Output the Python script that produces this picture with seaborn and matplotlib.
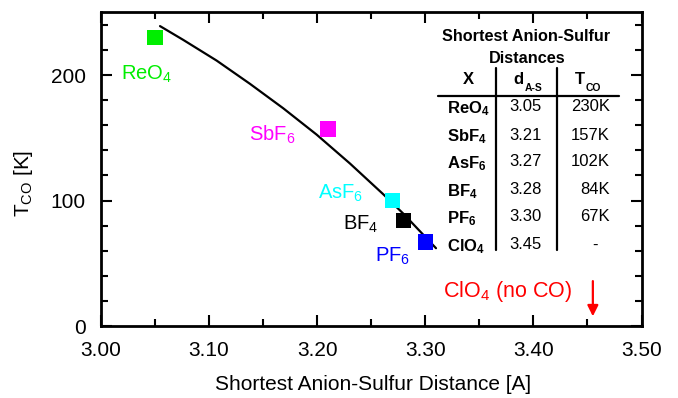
import numpy as np
import pandas as pd
import matplotlib
matplotlib.use("Agg")
import matplotlib.pyplot as plt
import seaborn as sns

# ---- data ----
anions = ["ReO4", "SbF6", "AsF6", "BF4", "PF6"]
anion_labels = ["ReO$_4$", "SbF$_6$", "AsF$_6$", "BF$_4$", "PF$_6$"]
distance = [3.05, 3.21, 3.27, 3.28, 3.30]
t_co = [230, 157, 100, 84, 67]
colors = ["#00ee00", "#ff00ff", "#00ffff", "#000000", "#0000ff"]

# guide curve
curve_d = [3.0546, 3.0761, 3.1070, 3.1378, 3.1686, 3.1995, 3.2303, 3.2611, 3.2797, 3.3099]
curve_t = [239.0, 228.0, 211.5, 193.0, 173.5, 152.5, 129.5, 105.0, 89.5, 62.0]

# table
table_x = [r"$\mathbf{ReO}_\mathbf{4}$", r"$\mathbf{SbF}_\mathbf{4}$", r"$\mathbf{AsF}_\mathbf{6}$",
           r"$\mathbf{BF}_\mathbf{4}$", r"$\mathbf{PF}_\mathbf{6}$", r"$\mathbf{ClO}_\mathbf{4}$"]
table_d = ["3.05", "3.21", "3.27", "3.28", "3.30", "3.45"]
table_t = ["230K", "157K", "102K", "84K", "67K", "-"]

clo4_d = 3.455

sns.set_style("ticks")
plt.rcParams["font.family"] = ["Liberation Sans", "DejaVu Sans"]
plt.rcParams["mathtext.fontset"] = "custom"
plt.rcParams["mathtext.rm"] = "Liberation Sans"
plt.rcParams["mathtext.it"] = "Liberation Sans:italic"
plt.rcParams["mathtext.bf"] = "Liberation Sans:bold"
plt.rcParams["text.color"] = "black"
plt.rcParams["axes.labelcolor"] = "black"

W, H = 678, 398
fig = plt.figure(figsize=(W / 100, H / 100), dpi=100)
L, R, B, T = 101, 641.5, 326, 12.3
ax = fig.add_axes([L / W, 1 - B / H, (R - L) / W, (B - T) / H])

df = pd.DataFrame({"anion": anions, "d": distance, "T": t_co})
cdf = pd.DataFrame({"d": curve_d, "T": curve_t})

sns.lineplot(data=cdf, x="d", y="T", ax=ax, color="black", lw=1.6, sort=False, zorder=2)
sns.scatterplot(data=df, x="d", y="T", hue="anion", palette=colors, marker="s", s=120,
                linewidth=0, ax=ax, legend=False, zorder=3)

# point labels
lab_pos = [(3.0182, 196.6), (3.1372, 147.7), (3.2010, 101.8), (3.2241, 76.5), (3.2535, 51.2)]
for (x, y), txt, c in zip(lab_pos, anion_labels, colors):
    ax.text(x, y, txt, color=c, fontsize=14.5, ha="left", va="baseline")

ax.text(3.3167, 23.3, "ClO$_4$ (no CO)", color="#ff0000", fontsize=15.5, ha="left", va="baseline")
ax.annotate("", xy=(clo4_d, 5.5), xytext=(clo4_d, 38),
            arrowprops=dict(arrowstyle="-|>", color="#ff0000", lw=1.6, mutation_scale=16))

ax.set_xlim(3.0, 3.5)
ax.set_ylim(0, 250)
ax.set_xticks(np.arange(3.0, 3.51, 0.1))
ax.set_xticklabels(["3.00", "3.10", "3.20", "3.30", "3.40", "3.50"])
ax.set_xticks(np.arange(3.05, 3.5, 0.1), minor=True)
ax.set_yticks([0, 100, 200])
ax.set_yticks([20, 40, 60, 80, 120, 140, 160, 180, 220, 240], minor=True)
ax.tick_params(which="both", direction="in", top=True, right=True, width=1.5, labelsize=15,
               colors="black", labelcolor="black")
ax.tick_params(which="major", length=8)
ax.tick_params(axis="x", which="major", pad=11)
ax.tick_params(axis="y", which="major", pad=11)
ax.tick_params(which="minor", length=5)
for s in ax.spines.values():
    s.set_linewidth(2)
    s.set_color("black")

ax.set_xlabel("Shortest Anion-Sulfur Distance [A]", fontsize=15)
ax.set_ylabel("T$_{\\mathrm{CO}}$ [K]", fontsize=15)
ax.xaxis.set_label_coords((373 - L) / (R - L), (B - 385) / (B - T))
ax.xaxis.label.set_va("center")
ax.yaxis.set_label_coords((23.5 - L) / (R - L), (B - 183) / (B - T))
ax.yaxis.label.set_va("center")

# ---- table (pixel coordinates of the figure) ----
def fx(px):
    return px / W

def fy(py):
    return 1 - py / H

fig.text(fx(526), fy(36.7), "Shortest Anion-Sulfur", fontsize=11.7, fontweight="bold",
         ha="center", va="center")
fig.text(fx(527), fy(58.3), "Distances", fontsize=11.7, fontweight="bold", ha="center", va="center")
fig.text(fx(468.3), fy(80), "X", fontsize=12, fontweight="bold", ha="center", va="center")
fig.text(fx(524), fy(80), "d", fontsize=12, fontweight="bold", ha="right", va="center")
fig.text(fx(524.5), fy(88), "A-S", fontsize=7.5, fontweight="bold", ha="left", va="center")
fig.text(fx(585), fy(80), "T", fontsize=12, fontweight="bold", ha="right", va="center")
fig.text(fx(585.5), fy(88), "CO", fontsize=7.5, fontweight="bold", ha="left", va="center")

row_y = [106.7, 135, 161.7, 190, 216.7, 245]
for yy, a, d, t in zip(row_y, table_x, table_d, table_t):
    fig.text(fx(447.3), fy(yy + 2), a, fontsize=12, ha="left", va="center")
    fig.text(fx(525), fy(yy), d, fontsize=12, ha="center", va="center")
    if t == "-":
        fig.text(fx(595), fy(yy), t, fontsize=12, ha="center", va="center")
    else:
        fig.text(fx(610), fy(yy), t, fontsize=12, ha="right", va="center")

fig.add_artist(plt.Line2D([fx(438), fx(619)], [fy(96), fy(96)], color="black", lw=1.6,
                          transform=fig.transFigure))
for xv in (496, 556.7):
    fig.add_artist(plt.Line2D([fx(xv), fx(xv)], [fy(68.3), fy(250)], color="black", lw=1.6,
                              transform=fig.transFigure))

fig.savefig("out.png", dpi=100)
